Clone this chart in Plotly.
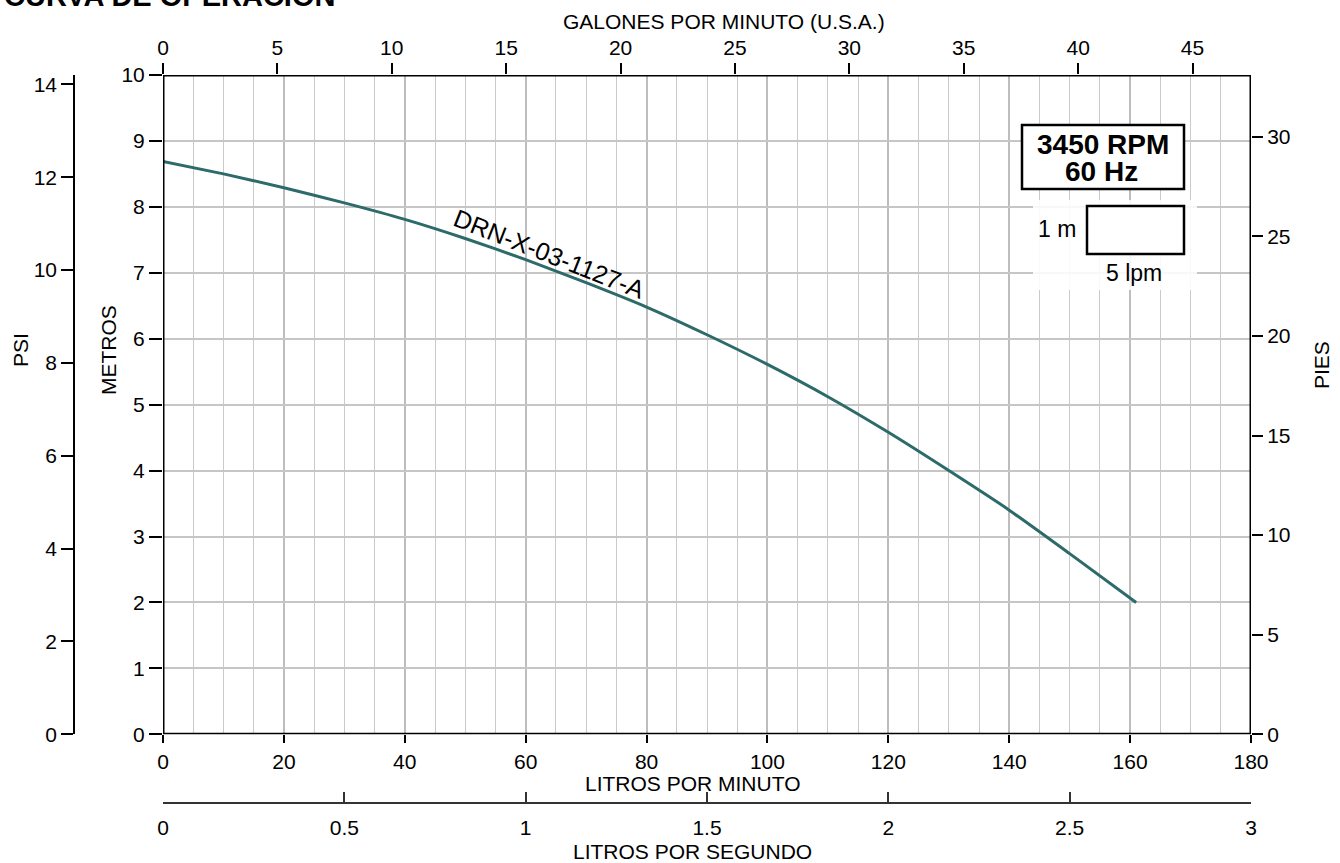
import plotly.graph_objects as go

# ---------------- data ----------------
lpm = [0, 10, 20, 30, 40, 50, 60, 70, 80, 90, 100, 110, 120, 130, 140, 150, 161]
metros = [8.69, 8.50, 8.29, 8.06, 7.81, 7.52, 7.20, 6.85, 6.48, 6.06, 5.61, 5.12, 4.58, 4.00, 3.40, 2.74, 2.00]
curve_name = "DRN-X-03-1127-A"
speed_lines = ["3450 RPM", "60 Hz"]
scale_labels = ["1 m", "5 lpm"]

LPM_MAX = 180
M_MAX = 10
LPM_PER_GAL = 3.785
PSI_PER_M = 1.42
FT_PER_M = 3.31

# ---------------- layout geometry ----------------
W, H = 1340, 863
ML, MR, MT, MB = 74, 89, 75, 60
PW = W - ML - MR
PH = H - MT - MB


def px(xp):
    return (xp - ML) / PW


def py(yp):
    return (H - MB - yp) / PH


FONT = "Liberation Sans, Arial, Helvetica, sans-serif"
TF = dict(family=FONT, size=21, color="black")
GRID = "#c6c6c6"

fig = go.Figure()
fig.add_trace(go.Scatter(
    x=lpm, y=metros, mode="lines", xaxis="x", yaxis="y",
    line=dict(color="#2d6a6a", width=3, shape="spline", smoothing=0.6),
    hoverinfo="skip", showlegend=False))

# invisible helpers so every secondary axis is drawn
for xa, ya in [("x2", "y"), ("x3", "y"), ("x", "y2"), ("x", "y3")]:
    fig.add_trace(go.Scatter(x=[0], y=[0], xaxis=xa, yaxis=ya, mode="markers",
                             marker=dict(opacity=0), hoverinfo="skip", showlegend=False))

xdom = [px(163), 1]
ydom = [py(734.3), 1]

fig.update_layout(
    width=W, height=H,
    margin=dict(l=ML, r=MR, t=MT, b=MB, pad=0),
    paper_bgcolor="white", plot_bgcolor="white",
    font=dict(family=FONT, color="black"),
    showlegend=False,
    xaxis=dict(domain=xdom, anchor="y", range=[0, LPM_MAX], tick0=0, dtick=20,
               ticks="outside", ticklen=8, tickwidth=1.5, tickcolor="black",
               showgrid=True, gridcolor="#bdbdbd", gridwidth=2,
               minor=dict(dtick=5, showgrid=True, gridcolor="#cacaca", gridwidth=1.2, ticks=""),
               zeroline=False, showline=False, tickfont=TF),
    xaxis2=dict(overlaying="x", side="top", anchor="y", range=[0, LPM_MAX / LPM_PER_GAL],
                tick0=0, dtick=5, ticks="outside", ticklen=11, tickwidth=1.5, tickcolor="black",
                showgrid=False, zeroline=False, showline=False, tickfont=TF),
    xaxis3=dict(overlaying="x", anchor="free", position=0, side="bottom",
                range=[0, LPM_MAX / 60], tick0=0, dtick=0.5,
                ticks="inside", ticklen=10, tickwidth=1.5, tickcolor="#333",
                showline=True, linecolor="#333", linewidth=1.5,
                showgrid=False, zeroline=False, tickfont=TF, ticklabelstandoff=6),
    yaxis=dict(domain=ydom, anchor="x", range=[0, M_MAX], tick0=0, dtick=1,
               ticks="outside", ticklen=13, tickwidth=1.5, tickcolor="black",
               showgrid=True, gridcolor=GRID, gridwidth=1.6,
               zeroline=False, showline=False, tickfont=TF),
    yaxis2=dict(overlaying="y", side="right", anchor="x", range=[0, M_MAX * FT_PER_M],
                tick0=0, dtick=5, ticks="outside", ticklen=11, tickwidth=1.5, tickcolor="black",
                showgrid=False, zeroline=False, showline=False, tickfont=TF),
    yaxis3=dict(overlaying="y", side="left", anchor="free", position=0,
                range=[0, M_MAX * PSI_PER_M], tick0=0, dtick=2,
                ticks="outside", ticklen=12, tickwidth=1.5, tickcolor="black",
                showline=True, linecolor="black", linewidth=1.5,
                showgrid=False, zeroline=False, tickfont=TF),
)

shapes = [
    # plot frame
    dict(type="rect", xref="x", yref="y", x0=0, x1=LPM_MAX, y0=0, y1=M_MAX,
         line=dict(color="black", width=3), layer="above"),
    # faded background under scale legend
    dict(type="rect", xref="paper", yref="paper", x0=px(1033), x1=px(1197), y0=py(290), y1=py(200),
         fillcolor="rgba(255,255,255,0.88)", line=dict(width=0), layer="above"),
    # speed box
    dict(type="rect", xref="paper", yref="paper", x0=px(1022), x1=px(1184), y0=py(189), y1=py(125),
         fillcolor="white", line=dict(color="black", width=2.5), layer="above"),
    # scale box
    dict(type="rect", xref="paper", yref="paper", x0=px(1087), x1=px(1184), y0=py(254), y1=py(206),
         fillcolor="white", line=dict(color="black", width=2.5), layer="above"),
]
fig.update_layout(shapes=shapes)


def ann(text, x, y, size=21, angle=0, bold=False, xanchor="center", **kw):
    t = f"<b>{text}</b>" if bold else text
    fig.add_annotation(text=t, x=x, y=y, xref=kw.pop("xref", "paper"), yref=kw.pop("yref", "paper"),
                       showarrow=False, textangle=angle, xanchor=xanchor, yanchor="middle",
                       font=dict(family=FONT, size=size, color="black"), **kw)


ann("CURVA DE OPERACIÓN", px(2), py(-4), size=29, bold=True, xanchor="left")
ann("GALONES POR MINUTO (U.S.A.)", px(724), py(21))
ann("LITROS POR MINUTO", px(692), py(783))
ann("LITROS POR SEGUNDO", px(692), py(851))
ann("PSI", px(20), py(350), angle=-90)
ann("METROS", px(108), py(350), angle=-90)
ann("PIES", px(1321), py(365), angle=-90)

ann(speed_lines[0], px(1103), py(144), size=28, bold=True)
ann(speed_lines[1], px(1101), py(172), size=28, bold=True)
ann(scale_labels[0], px(1057), py(229), size=23)
ann(scale_labels[1], px(1134), py(273), size=23)

ann(curve_name, 64.0, 7.29, size=25, angle=21.5, xref="x", yref="y")

fig.write_html("out.html", config={"displayModeBar": False},
               post_script="document.body.style.margin='0';document.body.style.overflow='hidden';")
